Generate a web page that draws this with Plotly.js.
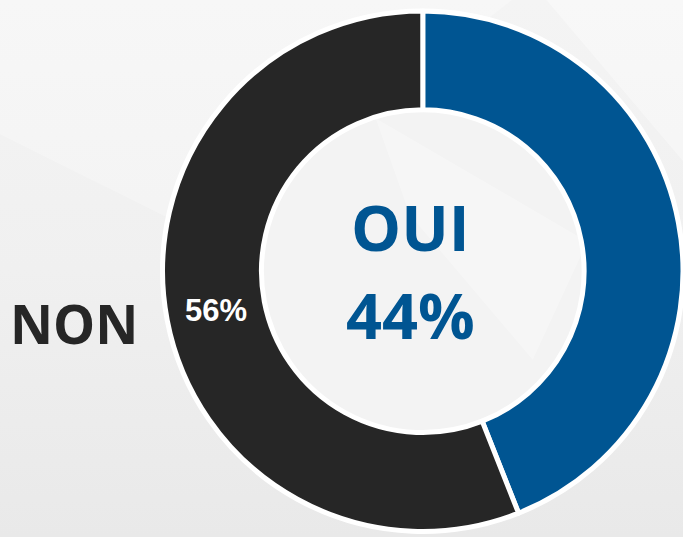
<!DOCTYPE html>
<html>
<head>
<meta charset="utf-8">
<script src="https://cdn.plot.ly/plotly-3.0.1.min.js"></script>
<style>
html,body{margin:0;padding:0;}
body{background:linear-gradient(180deg,#f4f4f4 0%,#f0f0f0 50%,#e9e9e9 100%);}
#chart{width:683px;height:537px;}
</style>
</head>
<body>
<div id="chart"></div>
<script>
const labels = ['OUI', 'NON'];
const values = [44, 56];
const colors = ['#005592', '#262626'];
const total = values.reduce((a, b) => a + b, 0);
const pct = values.map(v => Math.round(v / total * 100) + '%');

const data = [{
  type: 'pie',
  labels: labels,
  values: values,
  sort: false,
  direction: 'clockwise',
  rotation: 0,
  hole: 0.62,
  marker: {colors: colors, line: {color: '#ffffff', width: 5}},
  textinfo: 'none',
  showlegend: false,
  hoverinfo: 'none',
  domain: {x: [0.238, 1.0], y: [0.01, 0.98]}
}];

const bigFont = {family: 'Open Sans', size: 63, color: colors[0], weight: 'bold'};

const layout = {
  width: 683, height: 537,
  margin: {l: 0, r: 0, t: 0, b: 0},
  paper_bgcolor: 'rgba(0,0,0,0)',
  plot_bgcolor: 'rgba(0,0,0,0)',
  showlegend: false,
  shapes: [
    {type: 'path', xref: 'paper', yref: 'paper', path: 'M 0 0.75 L 0.3 0.56 L 0.75 1 L 0 1 Z', fillcolor: 'rgba(255,255,255,0.25)', line: {width: 0}, layer: 'below'},
    {type: 'path', xref: 'paper', yref: 'paper', path: 'M 0.8 1 L 1 1 L 1 0.7 Z', fillcolor: 'rgba(255,255,255,0.35)', line: {width: 0}, layer: 'below'},
    {type: 'circle', xref: 'paper', yref: 'paper', x0: 0.383, x1: 0.862, y0: 0.196, y1: 0.801, fillcolor: '#f3f3f3', line: {width: 0}, layer: 'below'},
    {type: 'path', xref: 'paper', yref: 'paper', path: 'M 0.55 0.78 L 0.86 0.55 L 0.78 0.33 L 0.6 0.6 Z', fillcolor: 'rgba(255,255,255,0.3)', line: {width: 0}, layer: 'below'}
  ],
  annotations: [
    {text: labels[0], x: 0.601, y: 0.578, xref: 'paper', yref: 'paper', xanchor: 'center', yanchor: 'middle', showarrow: false, font: bigFont},
    {text: pct[0], x: 0.601, y: 0.414, xref: 'paper', yref: 'paper', xanchor: 'center', yanchor: 'middle', showarrow: false, font: bigFont},
    {text: labels[1], x: 0.108, y: 0.398, xref: 'paper', yref: 'paper', xanchor: 'center', yanchor: 'middle', showarrow: false,
     font: {family: 'Open Sans', size: 53, color: colors[1], weight: 'bold'}},
    {text: pct[1], x: 0.316, y: 0.422, xref: 'paper', yref: 'paper', xanchor: 'center', yanchor: 'middle', showarrow: false,
     font: {family: 'Liberation Sans', size: 31, color: '#ffffff', weight: 'bold'}}
  ]
};

Plotly.newPlot('chart', data, layout, {displayModeBar: false, staticPlot: true});
</script>
</body>
</html>
